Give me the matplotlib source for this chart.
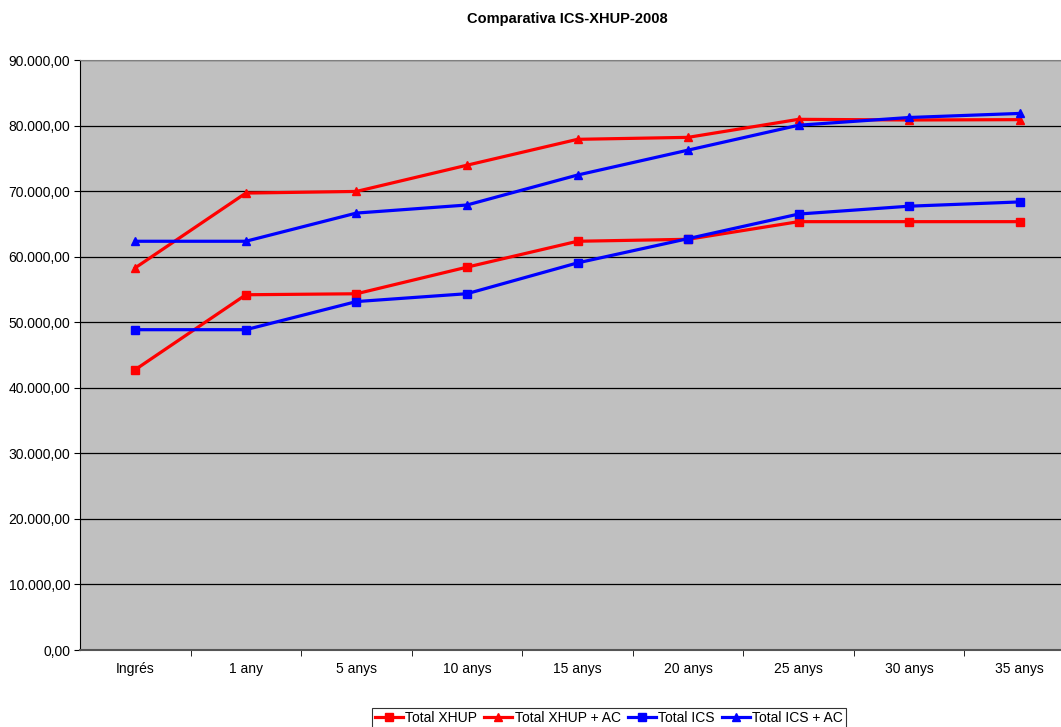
import matplotlib.pyplot as plt
import numpy as np
from matplotlib.ticker import FuncFormatter, FixedLocator

plt.rcParams['font.family'] = ['Liberation Sans', 'DejaVu Sans']

categories = ["Ingrés", "1 any", "5 anys", "10 anys", "15 anys", "20 anys", "25 anys", "30 anys", "35 anys"]
total_xhup = [42770, 54190, 54340, 58400, 62350, 62650, 65340, 65340, 65340]
total_xhup_ac = [58300, 69700, 69950, 73950, 77900, 78200, 80950, 80850, 80900]
total_ics = [48860, 48860, 53150, 54350, 59050, 62750, 66500, 67700, 68350]
total_ics_ac = [62350, 62350, 66650, 67880, 72450, 76250, 80050, 81230, 81850]

fig = plt.figure(figsize=(10.61, 7.27), dpi=100)
ax = fig.add_axes([80/1061, 1 - 650/727, 995/1061, 590/727])
ax.set_facecolor("#c0c0c0")

x = np.arange(len(categories))
ax.plot(x, total_xhup, color="#ff0000", lw=2.3, marker="s", ms=6, label="Total XHUP")
ax.plot(x, total_xhup_ac, color="#ff0000", lw=2.3, marker="^", ms=6, label="Total XHUP + AC")
ax.plot(x, total_ics, color="#0000ff", lw=2.3, marker="s", ms=6, label="Total ICS")
ax.plot(x, total_ics_ac, color="#0000ff", lw=2.3, marker="^", ms=6, label="Total ICS + AC")

ax.set_xlim(-0.5, len(categories) - 0.5)
ax.set_ylim(0, 90000)
ax.set_yticks(np.arange(0, 90001, 10000))
ax.yaxis.set_major_formatter(FuncFormatter(
    lambda v, p: "{:,.2f}".format(v).replace(",", "X").replace(".", ",").replace("X", ".")))
ax.grid(axis="y", color="black", lw=0.9)
ax.set_axisbelow(True)

ax.set_xticks(x)
ax.set_xticklabels(categories)
ax.xaxis.set_minor_locator(FixedLocator(np.arange(0.5, len(categories) - 0.5, 1)))
ax.tick_params(axis="x", which="major", length=0, pad=9, labelsize=10)
ax.tick_params(axis="x", which="minor", length=4, direction="out")
ax.tick_params(axis="y", length=4, labelsize=10, direction="out", pad=3)

ax.spines["left"].set_color("black")
ax.spines["bottom"].set_color("#555555")
ax.spines["bottom"].set_linewidth(1.5)
ax.spines["top"].set_color("#808080")
ax.spines["right"].set_visible(False)

fig.text(567/1061, 1 - 19/727, "Comparativa ICS-XHUP-2008", ha="center", va="center",
         fontsize=10.5, fontweight="bold")

leg = fig.legend(loc="center", bbox_to_anchor=(609/1061, 1 - 718/727), ncol=4, fontsize=10,
                 frameon=True, fancybox=False, edgecolor="black", handlelength=2.0,
                 handletextpad=0.2, columnspacing=0.5, borderpad=0.2, borderaxespad=0)
leg.get_frame().set_linewidth(0.8)

fig.savefig("out.png", dpi=100)
